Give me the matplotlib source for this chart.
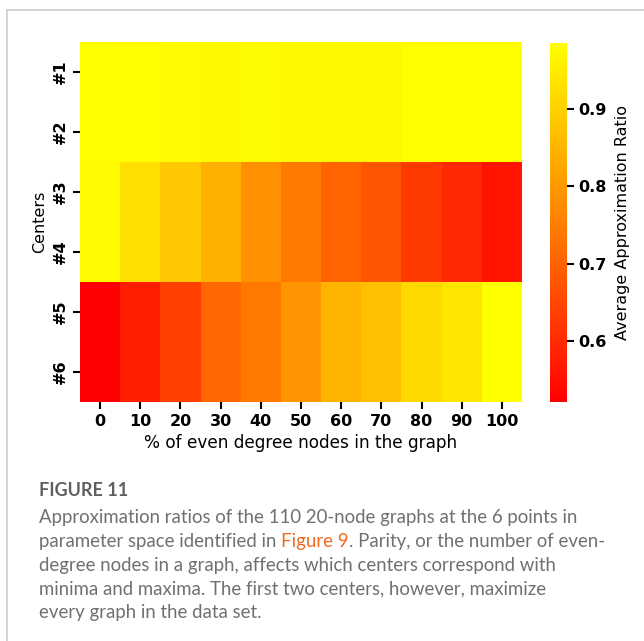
import numpy as np
import matplotlib
matplotlib.use("Agg")
import matplotlib.pyplot as plt
from matplotlib.colors import Normalize

# ---- data ----
centers = ["#1", "#2", "#3", "#4", "#5", "#6"]
pct_even = [0, 10, 20, 30, 40, 50, 60, 70, 80, 90, 100]
row_1 = [0.982, 0.981, 0.975, 0.973, 0.976, 0.972, 0.970, 0.969, 0.980, 0.982, 0.983]
row_2 = [0.982, 0.981, 0.975, 0.973, 0.976, 0.972, 0.970, 0.969, 0.980, 0.982, 0.983]
row_3 = [0.975, 0.927, 0.885, 0.841, 0.783, 0.743, 0.703, 0.676, 0.627, 0.594, 0.559]
row_4 = [0.975, 0.927, 0.885, 0.841, 0.783, 0.743, 0.703, 0.676, 0.627, 0.594, 0.559]
row_5 = [0.521, 0.579, 0.637, 0.710, 0.739, 0.792, 0.850, 0.870, 0.914, 0.938, 0.985]
row_6 = [0.521, 0.579, 0.637, 0.710, 0.739, 0.792, 0.850, 0.870, 0.914, 0.938, 0.985]
cbar_ticks = [0.6, 0.7, 0.8, 0.9]

W, H = 644, 641
fig = plt.figure(figsize=(W / 100, H / 100), dpi=100)
fig.patch.set_facecolor("white")

# page border lines
fig.add_artist(plt.Line2D([7 / W, 1.0], [1 - 10 / H, 1 - 10 / H], color="#cccccc", lw=1.2))
fig.add_artist(plt.Line2D([7 / W, 7 / W], [0, 1 - 10 / H], color="#cccccc", lw=1.2))

data = np.array([row_1, row_2, row_3, row_4, row_5, row_6])
norm = Normalize(vmin=data.min(), vmax=data.max())

ax = fig.add_axes([80 / W, 239 / H, 442 / W, 360 / H])
mesh = ax.pcolormesh(np.arange(len(pct_even) + 1), np.arange(len(centers) + 1), data,
                     cmap="autumn", norm=norm)
ax.set_xlim(0, len(pct_even))
ax.set_ylim(len(centers), 0)
for s in ax.spines.values():
    s.set_visible(False)
ax.set_xticks(np.arange(len(pct_even)) + 0.5)
ax.set_xticklabels([str(p) for p in pct_even], fontsize=11.5, fontweight="bold")
ax.set_yticks(np.arange(len(centers)) + 0.5)
ax.set_yticklabels(centers, fontsize=11.5, fontweight="bold", rotation=90, va="center")
ax.tick_params(length=5, width=1.5, pad=4)
ax.set_xlabel("% of even degree nodes in the graph", fontsize=12.2, labelpad=3)
ax.set_ylabel("Centers", fontsize=11.5, labelpad=4)

cax = fig.add_axes([550 / W, 239 / H, 17 / W, 359 / H])
cb = fig.colorbar(mesh, cax=cax)
cb.outline.set_visible(False)
cb.set_ticks(cbar_ticks)
cb.ax.set_yticklabels([f"{t:.1f}" for t in cbar_ticks], fontsize=11.5, fontweight="bold")
cb.ax.tick_params(length=5, width=1.5, pad=3)
cb.set_label("Average Approximation Ratio", fontsize=11.5, labelpad=6)

# caption
cap_font = "Lato"
gray = "#707070"
x0 = 39 / W
fig.text(x0, 1 - 496 / H, "FIGURE 11", fontsize=13, fontweight="bold", color="#5f5f5f",
         family=cap_font, va="baseline")
lines = [
    "Approximation ratios of the 110 20-node graphs at the 6 points in",
    None,
    "degree nodes in a graph, affects which centers correspond with",
    "minima and maxima. The first two centers, however, maximize",
    "every graph in the data set.",
]
y0 = 523
dy = 23.8
cap_size = 13.4
for i, ln in enumerate(lines):
    y = 1 - (y0 + i * dy) / H
    if ln is not None:
        fig.text(x0, y, ln, fontsize=cap_size, color=gray, family=cap_font, va="baseline")
    else:
        t1 = fig.text(x0, y, "parameter space identified in ", fontsize=cap_size, color=gray,
                      family=cap_font, va="baseline")
        t2 = fig.text(0, 0, "Figure 9", fontsize=cap_size, color="#f26a21", family=cap_font,
                      va="baseline")
        t3 = fig.text(0, 0, ". Parity, or the number of even-", fontsize=cap_size, color=gray,
                      family=cap_font, va="baseline")
        fig.canvas.draw()
        r = fig.canvas.get_renderer()
        bb1 = t1.get_window_extent(r)
        t2.set_position(((bb1.x1) / W, y))
        bb2 = t2.get_window_extent(r)
        t3.set_position(((bb2.x1) / W, y))

fig.savefig("out.png", dpi=100, facecolor="white")
